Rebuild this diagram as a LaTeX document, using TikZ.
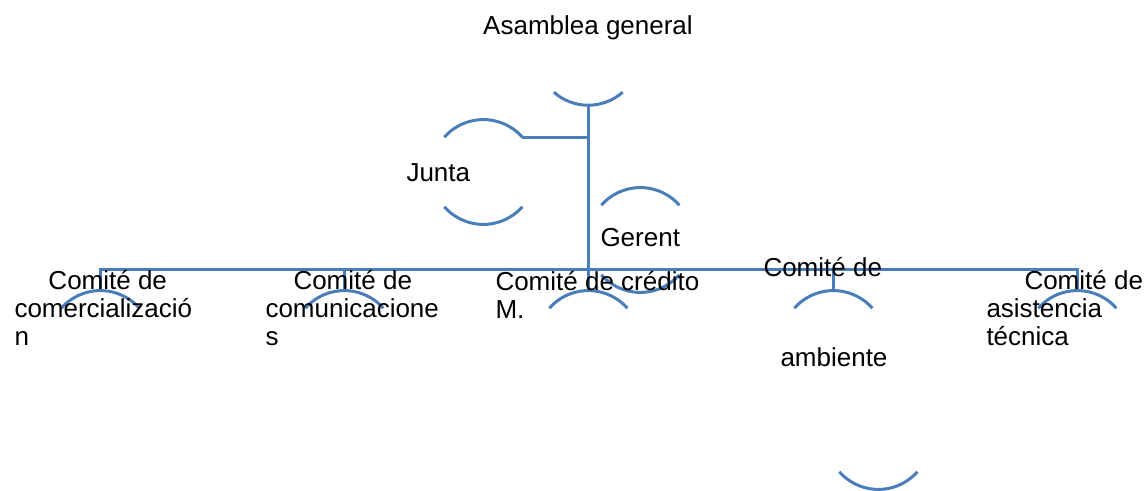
\documentclass[tikz,border=0pt]{standalone}
\usepackage{fontspec}
\setmainfont{Liberation Sans}
\usetikzlibrary{positioning,calc}
\definecolor{orgblue}{RGB}{74,126,187}
\newcommand\toparc[1]{\draw[rim] (#1.138.6) arc[start angle=138.6,end angle=41.4,radius=26pt];}
\newcommand\botarc[1]{\draw[rim] (#1.-138.6) arc[start angle=-138.6,end angle=-41.4,radius=26pt];}

\begin{document}
\begin{tikzpicture}[x=0.5pt,y=-0.5pt,line width=1.5pt,
    unit/.style={circle,minimum size=52pt,inner sep=0pt,outer sep=0pt,draw=none},
    txt/.style={font=\fontsize{13}{14}\selectfont,inner sep=0pt,align=left,anchor=base west},
    rim/.style={draw=orgblue},
    link/.style={draw=orgblue}]

      \useasboundingbox (0,0) rectangle (1147,491);

      \node[unit] (asamblea) at (588,53) {};
      \node[unit] (junta) at (483,172) {};
      \node[unit] (gerente) at (640,240) {};
      \node[unit] (comerc) at (100,343) {};
      \node[unit] (comunic) at (344,343) {};
      \node[unit] (credito) at (588,343) {};
      \node[unit] (ambiente) at (833,343) {};
      \node[unit] (asist) at (1077,343) {};
      \coordinate (bus) at (588,270);

      \draw[rim] (asamblea.-131.4) arc[start angle=-131.4,end angle=-48.6,radius=26pt];
      \toparc{junta} \botarc{junta}
      \toparc{gerente} \botarc{gerente}
      \toparc{comerc} \toparc{comunic} \toparc{credito} \toparc{ambiente} \toparc{asist}
      \draw[rim] ([shift={(45,94)}]ambiente.-138.6) arc[start angle=-138.6,end angle=-41.4,radius=26pt];

      \draw[link] (asamblea.south) -- (credito.north);
      \draw[link] (junta.41.4) -- (junta.41.4 -| asamblea.south);
      \draw[link] (comerc.north) |- (bus) -| (asist.north);
      \draw[link] (comunic.north) -- (comunic.north |- bus);
      \draw[link] (ambiente.north) -- (ambiente.north |- bus);

      % multi-line texts sit on the baseline of their last line
      \node[txt,anchor=base] (asambleatxt) at (588,35) {Asamblea general};
      \node[txt] (juntatxt) at (405,182) {Junta};
      \node[txt] (gerentetxt) at (599,247) {Gerent};
      \node[txt] (comerctxt) at (13,346) {\hspace*{17pt}Comité de\\comercializació\\n};
      \node[txt] (comunictxt) at (264,346) {\hspace*{14pt}Comité de\\comunicacione\\s};
      \node[txt] (creditotxt) at (494,319) {Comité de crédito\\M.};
      \node[txt] (ambientetxt) at (762,367) {Comité de\\[31pt]\hspace*{8.5pt}ambiente};
      \node[txt] (asisttxt) at (985,346) {\hspace*{19pt}Comité de\\asistencia\\técnica};

    \end{tikzpicture}
\end{document}
